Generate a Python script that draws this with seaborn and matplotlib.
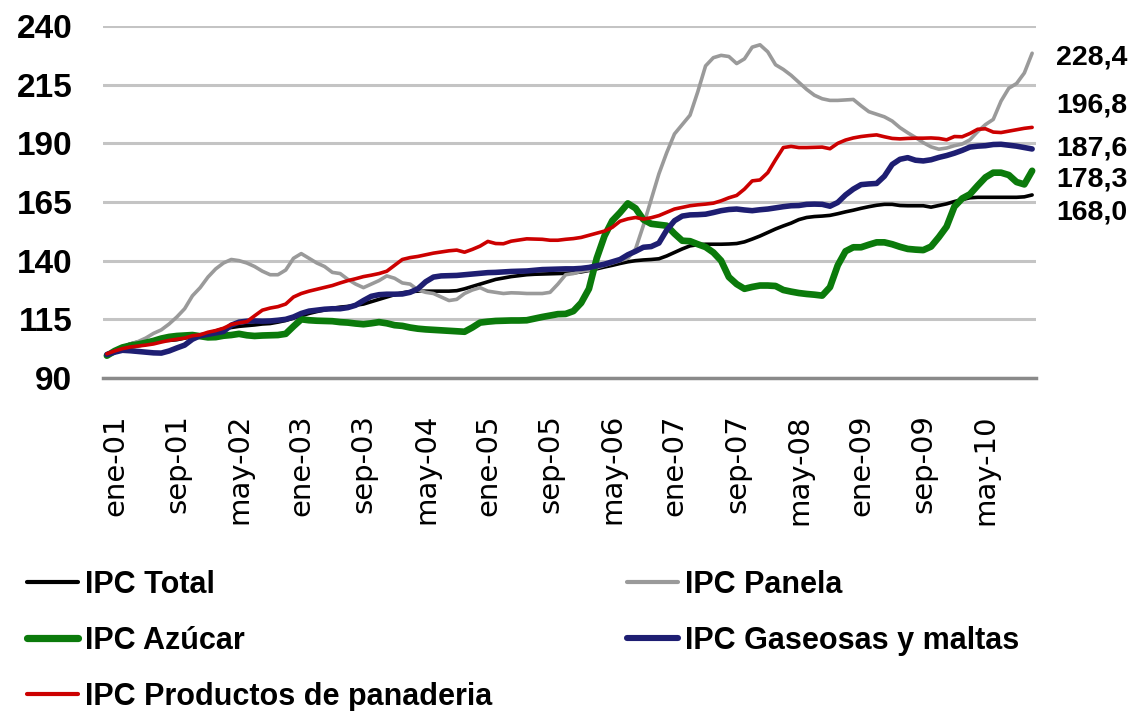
import numpy as np
import pandas as pd
import matplotlib
matplotlib.use("Agg")
import matplotlib.pyplot as plt
import matplotlib.transforms as mtransforms
from matplotlib.lines import Line2D
from matplotlib import font_manager as fm
import seaborn as sns

# ---------------- data ----------------
meses = ["ene", "feb", "mar", "abr", "may", "jun", "jul", "ago", "sep", "oct", "nov", "dic"]
periodos = [f"{m}-{a:02d}" for a in range(1, 11) for m in meses]  # ene-01 ... dic-10

ipc_total = [
    100.0, 101.5, 103.0, 104.5, 105.3, 105.6, 105.8, 106.0, 106.0, 106.3, 107.0, 107.5,
    108.0, 109.0, 110.0, 111.0, 111.5, 112.0, 112.3, 112.6, 113.0, 113.2, 113.8, 114.5,
    115.5, 116.5, 117.5, 118.3, 119.0, 119.7, 120.2, 120.5, 121.0, 121.5, 122.5, 123.5,
    124.5, 125.5, 126.3, 126.8, 127.0, 127.0, 127.0, 127.0, 127.0, 127.2, 128.0, 129.0,
    130.0, 131.0, 132.0, 132.6, 133.2, 133.6, 134.0, 134.2, 134.3, 134.4, 134.5, 134.6,
    134.8, 135.2, 135.8, 136.5, 137.3, 138.0, 138.8, 139.5, 140.0, 140.3, 140.5, 140.8,
    142.0, 143.5, 145.0, 146.3, 146.8, 147.0, 147.0, 147.0, 147.1, 147.3, 148.0, 149.2,
    150.5, 152.0, 153.5, 154.8, 156.0, 157.5, 158.4, 158.8, 159.0, 159.3, 160.0, 160.8,
    161.5, 162.3, 163.0, 163.6, 164.0, 164.0, 163.5, 163.4, 163.4, 163.4, 162.8, 163.5,
    164.2, 165.2, 166.0, 166.8, 167.0, 167.0, 167.0, 167.0, 167.0, 167.0, 167.2, 168.0,
]
ipc_panela = [
    100.0, 101.5, 103.0, 104.5, 105.5, 107.0, 109.0, 110.5, 113.0, 116.0, 119.5, 125.0,
    128.5, 133.0, 136.5, 139.0, 140.5, 140.0, 139.0, 137.5, 135.5, 134.0, 134.0, 136.0,
    141.0, 143.0, 141.0, 139.0, 137.5, 135.0, 134.5, 132.0, 130.0, 128.5, 130.0, 131.5,
    133.5, 132.5, 130.5, 130.0, 127.5, 126.5, 126.0, 124.5, 123.0, 123.5, 126.0, 127.5,
    128.5, 127.0, 126.5, 126.0, 126.3, 126.2, 126.0, 126.0, 126.0, 126.5, 130.0, 134.0,
    134.5, 135.5, 136.0, 137.0, 138.0, 139.0, 140.0, 141.0, 145.0, 155.0, 166.0, 177.0,
    186.0, 194.0, 198.0, 202.0, 212.0, 223.0, 226.5, 227.5, 227.0, 224.0, 226.0, 231.0,
    232.0, 229.0, 223.5, 221.5, 219.0, 216.0, 213.0, 210.5, 209.0, 208.3, 208.3, 208.5,
    208.7, 206.0, 203.5, 202.4, 201.3, 199.5, 196.7, 194.5, 192.5, 190.3, 188.5, 187.5,
    188.0, 189.0, 189.7, 191.5, 195.0, 198.0, 200.2, 208.0, 213.5, 215.5, 220.0, 228.4,
]
ipc_azucar = [
    99.5, 101.5, 103.0, 103.8, 104.3, 105.0, 105.8, 106.8, 107.5, 107.9, 108.1, 108.3,
    107.8, 107.3, 107.4, 108.0, 108.3, 108.8, 108.2, 107.9, 108.1, 108.2, 108.3, 108.8,
    112.0, 115.0, 114.6, 114.4, 114.3, 114.2, 113.8, 113.6, 113.2, 112.9, 113.3, 113.8,
    113.3, 112.5, 112.2, 111.5, 111.0, 110.7, 110.5, 110.3, 110.1, 109.9, 109.7, 111.5,
    113.6, 114.0, 114.3, 114.4, 114.5, 114.5, 114.6, 115.3, 116.0, 116.6, 117.2, 117.3,
    118.5, 122.0, 128.0, 141.0, 150.5, 157.0, 160.5, 164.4, 162.3, 157.5, 155.7, 155.3,
    154.9, 151.5, 148.5, 148.3, 147.0, 145.8, 143.5, 140.0, 133.0, 130.0, 128.0, 128.8,
    129.4, 129.4, 129.2, 127.5, 126.8, 126.2, 125.8, 125.5, 125.1, 128.7, 138.0, 144.0,
    145.7, 145.7, 146.8, 147.8, 147.8, 147.0, 145.9, 145.0, 144.7, 144.5, 146.0, 150.0,
    154.5, 163.0, 166.5, 168.3, 172.0, 175.5, 177.5, 177.5, 176.5, 173.5, 172.5, 178.3,
]
ipc_gaseosas = [
    100.0, 101.0, 101.8, 101.6, 101.3, 101.0, 100.7, 100.6, 101.5, 102.8, 104.0, 106.5,
    108.0, 108.6, 109.2, 109.8, 112.5, 113.8, 114.2, 114.3, 114.2, 114.3, 114.6, 115.0,
    116.0, 117.5, 118.5, 118.9, 119.3, 119.5, 119.5, 120.0, 121.0, 123.0, 124.8, 125.5,
    125.7, 125.7, 125.8, 126.5, 128.0, 131.0, 133.0, 133.5, 133.6, 133.7, 134.0, 134.3,
    134.6, 134.9, 135.0, 135.2, 135.4, 135.5, 135.6, 135.9, 136.2, 136.3, 136.4, 136.5,
    136.5, 136.7, 137.1, 137.8, 138.5, 139.5, 140.5, 142.5, 144.0, 145.7, 146.0, 147.5,
    153.0, 157.0, 159.0, 159.5, 159.6, 159.8, 160.5, 161.3, 161.8, 162.0, 161.6, 161.3,
    161.7, 162.0, 162.5, 163.0, 163.4, 163.5, 164.0, 164.1, 164.0, 163.2, 164.8, 168.0,
    170.5, 172.4, 172.7, 172.9, 176.0, 181.0, 183.2, 183.9, 182.8, 182.5, 183.0, 184.0,
    184.8, 185.8, 187.0, 188.4, 188.8, 189.0, 189.5, 189.6, 189.2, 188.8, 188.2, 187.6,
]
ipc_panaderia = [
    100.3, 101.5, 102.5, 103.2, 103.6, 104.0, 104.5, 105.3, 106.0, 106.5, 107.0, 108.0,
    108.4, 109.5, 110.2, 111.2, 112.8, 113.5, 114.0, 116.5, 118.9, 119.8, 120.4, 121.5,
    124.5, 126.0, 127.0, 127.8, 128.6, 129.4, 130.5, 131.5, 132.3, 133.2, 133.8, 134.5,
    135.5, 138.0, 140.5, 141.3, 141.8, 142.5, 143.2, 143.7, 144.2, 144.5, 143.6, 144.8,
    146.2, 148.2, 147.3, 147.2, 148.3, 148.8, 149.3, 149.2, 149.1, 148.7, 148.7, 149.1,
    149.4, 149.9, 150.8, 151.7, 152.6, 154.2, 156.8, 157.8, 158.4, 157.7, 158.3, 159.2,
    160.6, 162.0, 162.7, 163.4, 163.8, 164.1, 164.5, 165.5, 166.8, 167.8, 170.5, 174.0,
    174.4, 177.5, 183.0, 188.2, 188.7, 188.2, 188.2, 188.3, 188.4, 187.7, 190.0, 191.4,
    192.3, 192.9, 193.3, 193.6, 192.8, 192.1, 191.9, 192.1, 192.2, 192.2, 192.3, 192.1,
    191.5, 192.9, 192.8, 194.2, 196.0, 196.2, 194.8, 194.6, 195.2, 195.8, 196.4, 196.8,
]

series_names = ["IPC Total", "IPC Panela", "IPC Azúcar",
                "IPC Gaseosas y maltas", "IPC Productos de panaderia"]
series_values = [ipc_total, ipc_panela, ipc_azucar, ipc_gaseosas, ipc_panaderia]

# label positions (y, in data units) of the end-value annotations on the right
end_label_order = ["IPC Panela", "IPC Productos de panaderia", "IPC Gaseosas y maltas",
                   "IPC Azúcar", "IPC Total"]
end_label_y = [226.6, 206.0, 187.6, 174.8, 160.5]

y_ticks = [90, 115, 140, 165, 190, 215, 240]

# ---------------- style ----------------
colors = {
    "IPC Total": "#000000",
    "IPC Panela": "#9a9a9a",
    "IPC Azúcar": "#0b7a0b",
    "IPC Gaseosas y maltas": "#1e1e72",
    "IPC Productos de panaderia": "#cc0000",
}
widths = {
    "IPC Total": 2.6,
    "IPC Panela": 2.6,
    "IPC Azúcar": 4.8,
    "IPC Gaseosas y maltas": 4.0,
    "IPC Productos de panaderia": 2.6,
}

sns.set_style("white")
installed = {f.name for f in fm.fontManager.ttflist}
narrow = ["Liberation Sans Narrow", "DejaVu Sans"] if "Liberation Sans Narrow" in installed \
    else ["Liberation Sans", "DejaVu Sans"]
plt.rcParams["font.family"] = ["DejaVu Sans"]
plt.rcParams["text.color"] = "black"
plt.rcParams["xtick.color"] = "black"
plt.rcParams["ytick.color"] = "black"
plt.rcParams["xtick.labelcolor"] = "black"
plt.rcParams["ytick.labelcolor"] = "black"

df = pd.DataFrame({
    "idx": np.tile(np.arange(len(periodos)), len(series_names)),
    "valor": np.concatenate([np.asarray(v, dtype=float) for v in series_values]),
    "serie": np.repeat(series_names, len(periodos)),
})

fig = plt.figure(figsize=(11.33, 7.11), dpi=100)
ax = fig.add_axes([0.0909, 0.4684, 0.8235, 0.4950])

sns.lineplot(data=df, x="idx", y="valor", hue="serie", size="serie",
             hue_order=series_names, size_order=series_names,
             palette=colors, sizes=widths, estimator=None, sort=False,
             legend=False, ax=ax)
for ln in ax.lines:
    ln.set_solid_capstyle("round")
    ln.set_solid_joinstyle("round")

ax.set_xlim(-0.5, len(periodos) - 0.5)
ax.set_ylim(y_ticks[0], y_ticks[-1])
ax.set_xlabel("")
ax.set_ylabel("")

# y axis
ax.set_yticks(y_ticks)
ax.set_yticklabels([str(t) for t in y_ticks], fontsize=24, fontweight="bold",
                   family=narrow, color="black")
ax.tick_params(axis="y", length=0, pad=22)
ax.yaxis.grid(True, color="#c4c4c4", linewidth=2.2)
ax.xaxis.grid(False)
ax.set_axisbelow(True)

# x axis: labels every 8 months, tick marks at category boundaries
lab_pos = list(range(0, len(periodos), 8))
ax.set_xticks(lab_pos)
ax.set_xticklabels([periodos[i] for i in lab_pos], rotation=90, fontsize=21,
                   family=["DejaVu Sans"], color="black")
ax.tick_params(axis="x", which="major", length=0, pad=26)
offset = mtransforms.ScaledTranslation(8 / 100, 0, fig.dpi_scale_trans)
for lbl in ax.get_xticklabels():
    lbl.set_transform(lbl.get_transform() + offset)
ax.set_xticks(np.arange(-0.5, len(periodos), 8), minor=True)
ax.tick_params(axis="x", which="minor", length=12, width=2.5, color="#8a8a8a")

for s in ["top", "right", "left"]:
    ax.spines[s].set_visible(False)
ax.spines["bottom"].set_color("#8a8a8a")
ax.spines["bottom"].set_linewidth(2.5)

# end labels
trans = mtransforms.blended_transform_factory(ax.transAxes, ax.transData)
for name, yv in zip(end_label_order, end_label_y):
    last = series_values[series_names.index(name)][-1]
    ax.text(1.0215, yv, f"{last:.1f}".replace(".", ","), transform=trans,
            ha="left", va="center", fontsize=20.5, fontweight="bold",
            family=narrow, color="black")

# legend in two blocks
def handle(name):
    return Line2D([], [], color=colors[name], linewidth=widths[name] + 0.4,
                  solid_capstyle="round")

col1 = ["IPC Total", "IPC Azúcar", "IPC Productos de panaderia"]
col2 = ["IPC Panela", "IPC Gaseosas y maltas"]
leg_kw = dict(loc="upper left", frameon=False, handlelength=1.67, handletextpad=0.22,
              labelspacing=0.85, borderpad=0, borderaxespad=0, labelcolor="black",
              prop=fm.FontProperties(family=narrow, weight="bold", size=22))
fig.legend([handle(n) for n in col1], col1, bbox_to_anchor=(0.0238, 0.1985), **leg_kw)
fig.legend([handle(n) for n in col2], col2, bbox_to_anchor=(0.5534, 0.1985), **leg_kw)

fig.savefig("out.png", dpi=100)
